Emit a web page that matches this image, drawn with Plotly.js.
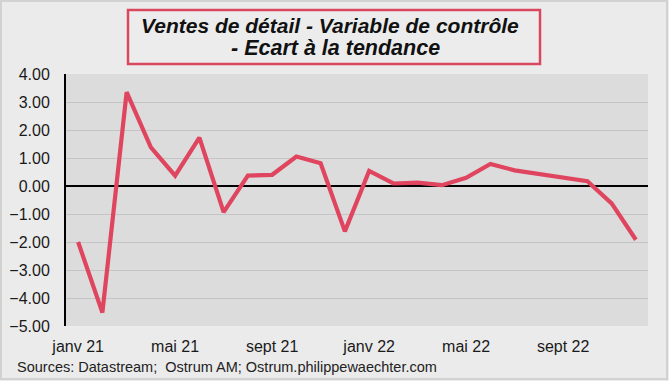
<!DOCTYPE html>
<html>
<head>
<meta charset="utf-8">
<script src="https://cdn.plot.ly/plotly-3.0.1.min.js"></script>
<style>html,body{margin:0;padding:0;background:#ebebeb;}#chart{width:669px;height:381px;}</style>
</head>
<body>
<div id="chart"></div>
<script>
const months = ['janv 21','févr 21','mars 21','avr 21','mai 21','juin 21','juil 21','août 21','sept 21','oct 21','nov 21','déc 21',
                'janv 22','févr 22','mars 22','avr 22','mai 22','juin 22','juil 22','août 22','sept 22','oct 22','nov 22','déc 22'];
const values = [-2.00, -4.52, 3.35, 1.38, 0.37, 1.73, -0.93, 0.37, 0.40, 1.05, 0.81, -1.62,
                0.54, 0.09, 0.12, 0.03, 0.29, 0.79, 0.56, 0.44, 0.32, 0.17, -0.62, -1.92];
const tickLabels = ['janv 21','mai 21','sept 21','janv 22','mai 22','sept 22'];
const titleLines = ['Ventes de détail - Variable de contrôle', '- Ecart à la tendance'];
const sourceText = 'Sources: Datastream;  Ostrum AM; Ostrum.philippewaechter.com';

const W = 669, H = 381, L = 66, R = 21, T = 74, B = 55;
const pw = W - L - R, ph = H - T - B;
const px = x => (x - L) / pw;
const py = y => (H - B - y) / ph;

const trace = {
  x: months, y: values, type: 'scatter', mode: 'lines',
  line: {color: '#e0455f', width: 4.2}, hoverinfo: 'skip'
};

const layout = {
  width: W, height: H,
  margin: {l: L, r: R, t: T, b: B, pad: 0},
  paper_bgcolor: '#ebebeb', plot_bgcolor: '#dcdcdc',
  showlegend: false,
  font: {family: 'Liberation Sans, Arial, sans-serif', color: '#1a1a1a'},
  xaxis: {
    type: 'category', range: [-0.5, months.length - 0.5],
    tickmode: 'array', tickvals: tickLabels, ticktext: tickLabels,
    showgrid: false, zeroline: false, showline: false,
    ticks: 'outside', ticklen: 6, tickcolor: 'rgba(0,0,0,0)',
    tickfont: {size: 16, color: '#1a1a1a'}
  },
  yaxis: {
    range: [-5, 4], dtick: 1, tick0: 0, tickformat: '.2f',
    showgrid: true, gridcolor: '#c4c4c4', gridwidth: 1,
    zeroline: true, zerolinecolor: '#000000', zerolinewidth: 2,
    showline: true, linecolor: '#000000', linewidth: 2,
    ticks: 'outside', ticklen: 11, tickcolor: 'rgba(0,0,0,0)',
    tickfont: {size: 16, color: '#1a1a1a'}
  },
  shapes: [
    {type: 'rect', xref: 'paper', yref: 'paper', x0: px(1), x1: px(667), y0: py(379), y1: py(1),
     line: {color: '#d2d2d2', width: 2}, fillcolor: 'rgba(0,0,0,0)', layer: 'below'},
    {type: 'rect', xref: 'paper', yref: 'paper', x0: px(128), x1: px(540), y0: py(64), y1: py(10),
     line: {color: '#d9475f', width: 2.5}, fillcolor: '#ececec'}
  ],
  annotations: [
    {xref: 'paper', yref: 'paper', x: px(330), y: py(25), text: '<b><i>' + titleLines[0] + '</i></b>',
     showarrow: false, xanchor: 'center', yanchor: 'middle', font: {size: 21, color: '#111111'}},
    {xref: 'paper', yref: 'paper', x: px(335), y: py(48), text: '<b><i>' + titleLines[1] + '</i></b>',
     showarrow: false, xanchor: 'center', yanchor: 'middle', font: {size: 21.5, color: '#111111'}},
    {xref: 'paper', yref: 'paper', x: px(15), y: py(367), text: sourceText,
     showarrow: false, xanchor: 'left', yanchor: 'middle', font: {size: 14.5, color: '#222222'}}
  ]
};

Plotly.newPlot('chart', [trace], layout, {displayModeBar: false, staticPlot: true});
</script>
</body>
</html>
